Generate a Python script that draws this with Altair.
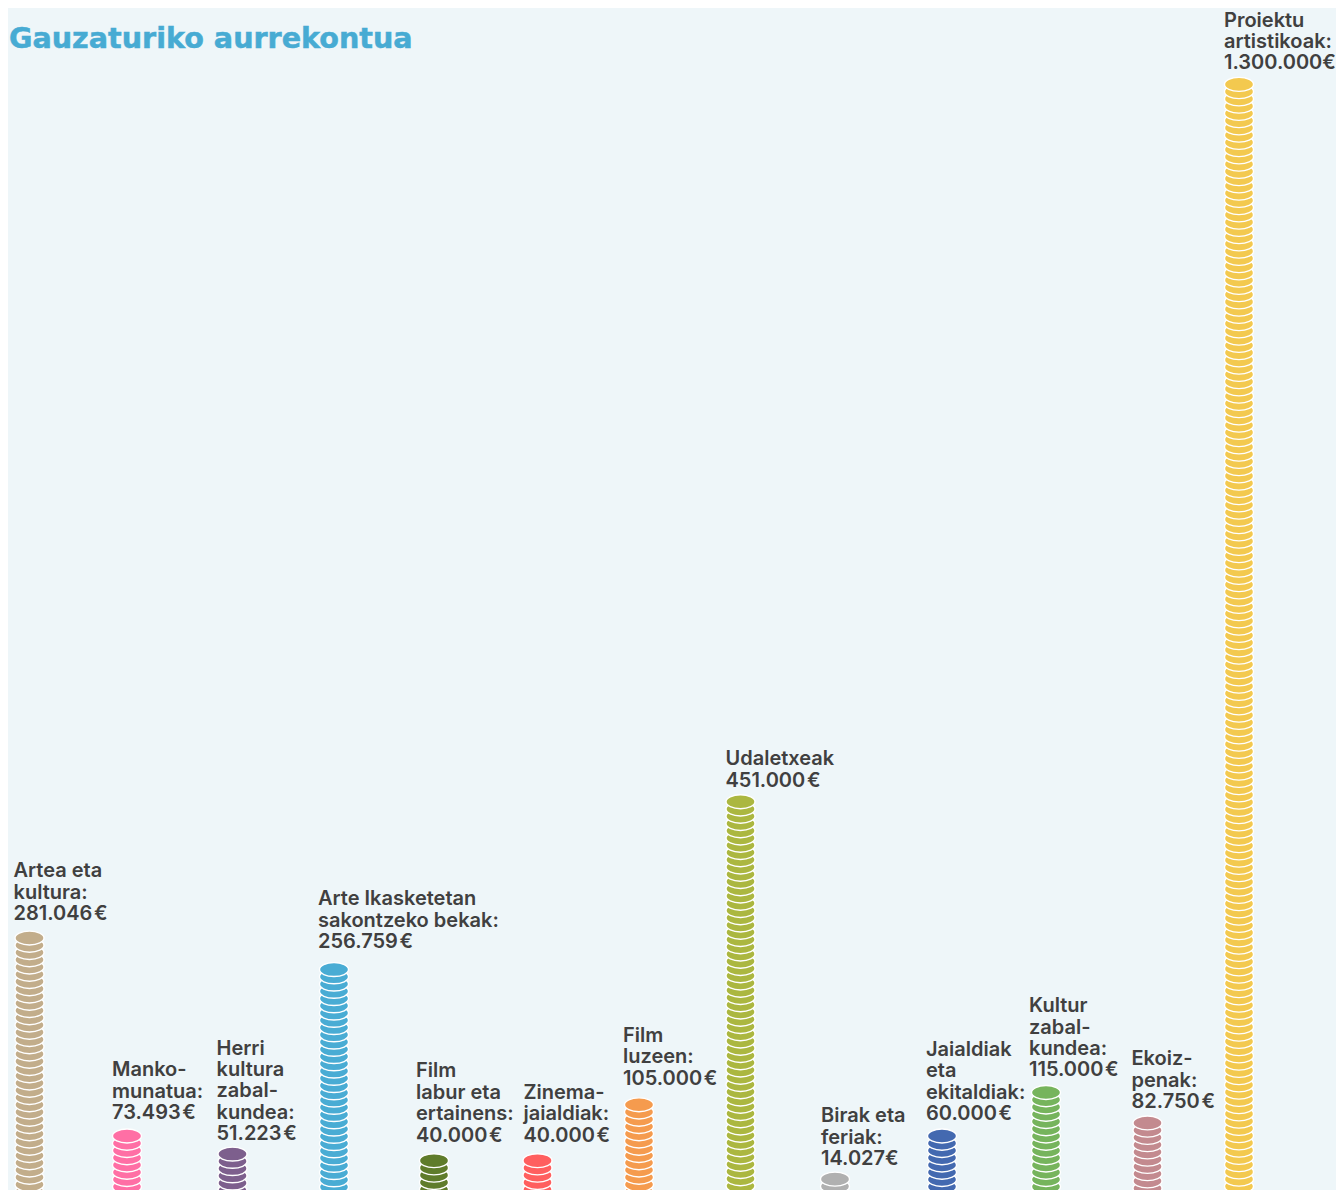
import altair as alt
import pandas as pd

categories = ["Artea eta\nkultura:", "Manko-\nmunatua:", "Herri\nkultura\nzabal-\nkundea:",
              "Arte Ikasketetan\nsakontzeko bekak:", "Film\nlabur eta\nertainens:", "Zinema-\njaialdiak:",
              "Film\nluzeen:", "Udaletxeak", "Birak eta\nferiak:", "Jaialdiak\neta\nekitaldiak:",
              "Kultur\nzabal-\nkundea:", "Ekoiz-\npenak:", "Proiektu\nartistikoak:"]
amounts = ["281.046\u200a€", "73.493\u200a€", "51.223\u200a€", "256.759\u200a€", "40.000\u200a€", "40.000\u200a€",
           "105.000\u200a€", "451.000\u200a€", "14.027€", "60.000\u200a€", "115.000\u200a€", "82.750\u200a€", "1.300.000€"]
stack_heights = [34.75, 7.45, 4.95, 30.4, 4.05, 4.05, 11.75, 53.55, 1.5, 7.45, 13.45, 9.25, 152.5]
colors = ["#C2AD8B", "#FF6FA5", "#7D5F8D", "#49ACD4", "#5F7C2B", "#FF5F5F", "#F59B4E",
          "#ABB740", "#B0B0B0", "#4369B0", "#76B45C", "#C38A8F", "#F3C94F"]

slots = list(range(13))
slot_px = [21.5, 119, 224.5, 326, 426, 529.5, 631, 732.5, 827, 934, 1038, 1139.5, 1231]
label_dx = [-16, -15, -16, -16, -18, -14, -16, -15, -14, -16, -17, -16, -15]
label_dy = [-18, -17, -14, -21.5, -19, -19, -20, -15, -14, -16, -16, -15, -15]

W, H = 1328, 1182
coin_step = 7.25
line_h = 21.4
COIN = "M-1,0 A1,0.48 0 1,1 1,0 A1,0.48 0 1,1 -1,0 Z"

x_enc = alt.X("slot:Q", scale=alt.Scale(domain=slots, range=slot_px), axis=None)
y_enc = alt.Y("h:Q", scale=alt.Scale(domain=[0, H / coin_step], range=[H, 0], nice=False, zero=False), axis=None)

rows = []
for s, top in zip(slots, stack_heights):
    k = -1.0 + ((top + 1.0) % 1.0)
    while k <= top + 1e-9:
        rows.append({"slot": s, "h": round(k, 3)})
        k += 1.0
coins = pd.DataFrame(rows)

coin_layer = alt.Chart(coins).mark_point(
    shape=COIN, filled=True, opacity=1, stroke="white", strokeWidth=1.4, size=840
).encode(
    x=x_enc, y=y_enc,
    color=alt.Color("slot:N", scale=alt.Scale(domain=slots, range=colors), legend=None),
)

layers = [coin_layer]
for s, cat, amt, top, dx, dy in zip(slots, categories, amounts, stack_heights, label_dx, label_dy):
    text = cat + "\n" + amt
    row = pd.DataFrame([{"slot": s, "h": top, "t": text}])
    n_breaks = text.count("\n")
    layers.append(
        alt.Chart(row).mark_text(
            align="left", baseline="alphabetic", lineBreak="\n", lineHeight=line_h,
            font="Inter", fontSize=20, fontWeight=600, color="#404040", dx=dx, dy=dy - n_breaks * line_h,
        ).encode(x=x_enc, y=y_enc, text="t:N")
    )

title = alt.Chart(pd.DataFrame([{"t": "Gauzaturiko aurrekontua"}])).mark_text(
    align="left", baseline="alphabetic", font="DejaVu Sans", fontSize=28.6, fontWeight="bold", color="#47ABD3",
    stroke="#47ABD3", strokeWidth=0.5,
).encode(x=alt.value(1), y=alt.value(40), text="t:N")
layers.append(title)

chart = alt.layer(*layers).resolve_scale(color="independent").properties(
    width=W, height=H, background="#EEF6F9", padding=0,
    autosize=alt.AutoSizeParams(type="none"),
).configure_view(stroke=None)

chart.save("out.html", embed_options={"renderer": "svg", "actions": False})
